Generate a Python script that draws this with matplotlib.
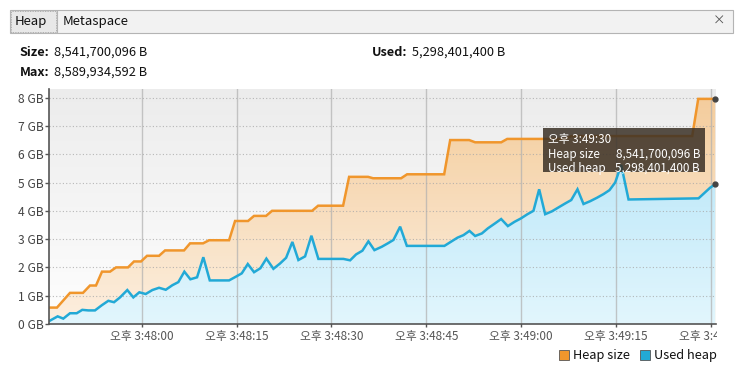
import numpy as np
import matplotlib
matplotlib.use("Agg")
import matplotlib.pyplot as plt
from matplotlib.patches import Rectangle
from matplotlib.transforms import Bbox
from matplotlib.colors import LinearSegmentedColormap

plt.rcParams['font.family'] = ['Noto Sans CJK KR', 'DejaVu Sans']

# ---------------- data (seconds relative to 오후 3:48:00, values in GB) ----------------
heap_t = [-14.66, -13.40, -11.34, -9.29, -8.18, -7.23, -6.28, -5.01, -4.06, -2.17,
          -1.22, -0.11, 0.84, 2.74, 3.69, 6.69, 7.64, 9.70, 10.65, 13.81,
          14.76, 16.81, 17.76, 19.66, 20.61, 26.94, 27.89, 31.84, 32.79, 35.79,
          36.58, 41.01, 41.96, 47.82, 48.77, 51.77, 52.72, 56.84, 57.79, 66.96,
          67.90, 87.04, 87.99, 90.68]
heap_gb = [0.58, 0.58, 1.10, 1.10, 1.36, 1.36, 1.85, 1.85, 2.00, 2.00,
           2.21, 2.21, 2.41, 2.41, 2.60, 2.60, 2.85, 2.85, 2.96, 2.96,
           3.64, 3.64, 3.82, 3.82, 4.00, 4.00, 4.18, 4.18, 5.20, 5.20,
           5.15, 5.15, 5.29, 5.29, 6.50, 6.50, 6.42, 6.42, 6.54, 6.54,
           6.64, 6.64, 7.955, 7.955]

used_t = [-14.50, -13.29, -12.40, -11.34, -10.28, -9.40, -8.45, -7.39, -6.33, -5.28,
          -4.38, -3.43, -2.28, -1.33, -0.38, 0.63, 1.68, 2.74, 3.80, 4.84,
          5.79, 6.74, 7.69, 8.75, 9.74, 10.76, 13.81, 14.87, 15.82, 16.77,
          17.76, 18.76, 19.71, 20.82, 21.88, 22.83, 23.82, 24.77, 25.83, 26.83,
          27.93, 31.89, 32.95, 33.90, 34.89, 35.84, 36.79, 37.96, 38.91, 39.80,
          40.86, 41.92, 47.86, 48.92, 49.92, 50.87, 51.82, 52.72, 53.78, 54.73,
          55.89, 56.83, 57.89, 58.94, 59.95, 60.99, 61.94, 62.84, 63.79, 64.85,
          65.90, 66.96, 67.91, 68.90, 69.85, 70.91, 71.97, 73.01, 73.96, 74.86,
          75.81, 76.97, 88.04, 89.89, 90.68]
used_gb = [0.12, 0.27, 0.19, 0.38, 0.38, 0.50, 0.48, 0.48, 0.66, 0.82,
           0.77, 0.94, 1.20, 0.94, 1.12, 1.06, 1.20, 1.28, 1.21, 1.37,
           1.48, 1.85, 1.58, 1.65, 2.36, 1.54, 1.54, 1.67, 1.79, 2.12,
           1.83, 1.97, 2.31, 1.95, 2.14, 2.34, 2.90, 2.26, 2.39, 3.12,
           2.30, 2.30, 2.25, 2.46, 2.59, 2.92, 2.61, 2.73, 2.85, 2.97,
           3.44, 2.76, 2.76, 2.91, 3.05, 3.14, 3.29, 3.11, 3.20, 3.38,
           3.56, 3.71, 3.46, 3.61, 3.73, 3.88, 4.00, 4.76, 3.88, 3.98,
           4.12, 4.26, 4.38, 4.76, 4.24, 4.34, 4.46, 4.59, 4.73, 5.00,
           5.62, 4.40, 4.44, 4.82, 4.934]

tick_secs = [0, 15, 30, 45, 60, 75, 90]
tick_labels = ['오후 3:48:00', '오후 3:48:15', '오후 3:48:30', '오후 3:48:45',
               '오후 3:49:00', '오후 3:49:15', '오후 3:49:30']
ytick_vals = [0, 1, 2, 3, 4, 5, 6, 7, 8]
ytick_labels = [f'{v} GB' for v in ytick_vals]

tab_names = ['Heap', 'Metaspace']
size_text = '8,541,700,096 B'
used_text = '5,298,401,400 B'
max_text = '8,589,934,592 B'
tooltip_time = '오후 3:49:30'
series_names = ['Heap size', 'Used heap']

ORANGE = '#f0962c'
BLUE = '#22a9d6'

W, H = 736, 372
fig = plt.figure(figsize=(W / 100, H / 100), dpi=100)
fig.patch.set_facecolor('white')

def fx(px):
    return px / W

def fy(py):
    return 1 - py / H

# ---------------- tab bar ----------------
fig.patches.append(Rectangle((fx(10), fy(33)), fx(723), 23 / H, transform=fig.transFigure,
                             facecolor='#f2f2f2', edgecolor='#b4b4b4', lw=0.8))
fig.patches.append(Rectangle((fx(11), fy(32)), fx(45), 21 / H, transform=fig.transFigure,
                             facecolor='#e8e8e8', edgecolor='#9a9a9a', lw=0.6, ls=(0, (1, 1))))
fig.lines.append(plt.Line2D([fx(57), fx(57)], [fy(32), fy(11)], transform=fig.transFigure,
                            color='#b4b4b4', lw=0.8))
fig.text(fx(15), fy(22), tab_names[0], fontsize=9.5, va='center', ha='left', color='#111111')
fig.text(fx(63), fy(22), tab_names[1], fontsize=9.5, va='center', ha='left', color='#111111')
fig.text(fx(719), fy(21), '×', fontsize=9, va='center', ha='center', color='#555555')

# ---------------- info text ----------------
def label_value(x, y, lab, val):
    t = fig.text(fx(x), fy(y), lab, fontsize=9.2, fontweight='bold', va='center', ha='left',
                 color='#111111')
    fig.canvas.draw()
    bb = t.get_window_extent()
    fig.text(bb.x1 / W + 4 / W, fy(y), val, fontsize=9.2, va='center', ha='left', color='#111111')

label_value(20, 52, 'Size:', size_text)
label_value(372, 52, 'Used:', used_text)
label_value(20, 72, 'Max:', max_text)

# ---------------- axes ----------------
ax_l, ax_r, ax_t, ax_b = 49, 716, 89, 324
ax = fig.add_axes([fx(ax_l), fy(ax_b), (ax_r - ax_l) / W, (ax_b - ax_t) / H])
xmin, xmax = -14.66, 90.8
ymax = (ax_b - ax_t) / 28.3
ax.set_xlim(xmin, xmax)
ax.set_ylim(0, ymax)

# background gradient
bg = LinearSegmentedColormap.from_list('bg', ['#fefefe', '#ececec'])
grad = np.linspace(0, 1, 256).reshape(-1, 1)
ax.imshow(grad, extent=[xmin, xmax, 0, ymax], origin='lower', aspect='auto', cmap=bg,
          zorder=0, interpolation='bicubic')

# orange area (0 -> heap size) with gradient
org = LinearSegmentedColormap.from_list('org', ['#fdeedd', '#f5c891'])
poly_o = ax.fill_between(heap_t, 0, heap_gb, facecolor='none', edgecolor='none', zorder=2)
im_o = ax.imshow(grad, extent=[xmin, xmax, 0, ymax], origin='lower', aspect='auto', cmap=org,
                 zorder=2, alpha=0.9, interpolation='bicubic')
im_o.set_clip_path(poly_o.get_paths()[0], transform=ax.transData)

# blue area (0 -> used heap)
blu = LinearSegmentedColormap.from_list('blu', ['#e2f6fd', '#aee2f7'])
poly_b = ax.fill_between(used_t, 0, used_gb, facecolor='none', edgecolor='none', zorder=3)
im_b = ax.imshow(grad, extent=[xmin, xmax, 0, ymax], origin='lower', aspect='auto', cmap=blu,
                 zorder=3, interpolation='bicubic')
im_b.set_clip_path(poly_b.get_paths()[0], transform=ax.transData)

# grid (visible through the fills)
for v in ytick_vals[1:]:
    ax.axhline(v, color='#a8a8a8', lw=0.8, ls=(0, (1, 2)), zorder=3.5, alpha=0.8)
for s in tick_secs:
    ax.axvline(s, color='#b0b0b0', lw=1.0, zorder=3.5, alpha=0.7)

ax.plot(heap_t, heap_gb, color=ORANGE, lw=1.8, zorder=4, solid_joinstyle='miter')
ax.plot(used_t, used_gb, color=BLUE, lw=1.8, zorder=5, solid_joinstyle='miter')
ax.plot([heap_t[-1]], [heap_gb[-1]], 'o', color='#444444', ms=3.5, zorder=6, clip_on=False)
ax.plot([used_t[-1]], [used_gb[-1]], 'o', color='#444444', ms=3.5, zorder=6, clip_on=False)

for side in ['top', 'right']:
    ax.spines[side].set_visible(False)
for side in ['left', 'bottom']:
    ax.spines[side].set_color('#555555')
    ax.spines[side].set_linewidth(1.2)
    ax.spines[side].set_zorder(7)

ax.set_yticks(ytick_vals)
ax.set_yticklabels(ytick_labels)
ax.set_xticks(tick_secs)
ax.set_xticklabels(tick_labels)
ax.tick_params(axis='y', length=3, width=1, color='#555555', labelsize=8.7, labelcolor='#444444', pad=1)
ax.tick_params(axis='x', length=4, width=1, color='#555555', labelsize=8.5, labelcolor='#555555',
               pad=2, direction='inout')

# the last time label is cut off at the panel edge, as in the original view
clip = Bbox([[0, 0], [717, H]])
for lab in ax.get_xticklabels():
    lab.set_clip_on(True)
    lab.set_clip_box(clip)

# ---------------- tooltip ----------------
tx0, ty0, tx1, ty1 = 543, 128, 705, 172
fig.patches.append(Rectangle((fx(tx0), fy(ty1)), (tx1 - tx0) / W, (ty1 - ty0) / H,
                             transform=fig.transFigure, facecolor='#3a3026', alpha=0.85,
                             edgecolor='none', zorder=10))
fs_tt = 8.4
fig.text(fx(548), fy(139), tooltip_time, fontsize=fs_tt, color='white', va='center', ha='left', zorder=11)
fig.text(fx(548), fy(154), series_names[0], fontsize=fs_tt, color='white', va='center', ha='left', zorder=11)
fig.text(fx(548), fy(168), series_names[1], fontsize=fs_tt, color='white', va='center', ha='left', zorder=11)
fig.text(fx(700), fy(154), size_text, fontsize=fs_tt, color='white', va='center', ha='right', zorder=11)
fig.text(fx(700), fy(168), used_text, fontsize=fs_tt, color='white', va='center', ha='right', zorder=11)

# ---------------- legend ----------------
fig.patches.append(Rectangle((fx(559), fy(360)), 10 / W, 10 / H, transform=fig.transFigure,
                             facecolor=ORANGE, edgecolor='#555555', lw=0.6))
fig.text(fx(573), fy(355), series_names[0], fontsize=9.2, va='center', ha='left', color='#111111')
fig.patches.append(Rectangle((fx(640), fy(360)), 10 / W, 10 / H, transform=fig.transFigure,
                             facecolor=BLUE, edgecolor='#555555', lw=0.6))
fig.text(fx(654), fy(355), series_names[1], fontsize=9.2, va='center', ha='left', color='#111111')

fig.savefig('out.png', dpi=100)
